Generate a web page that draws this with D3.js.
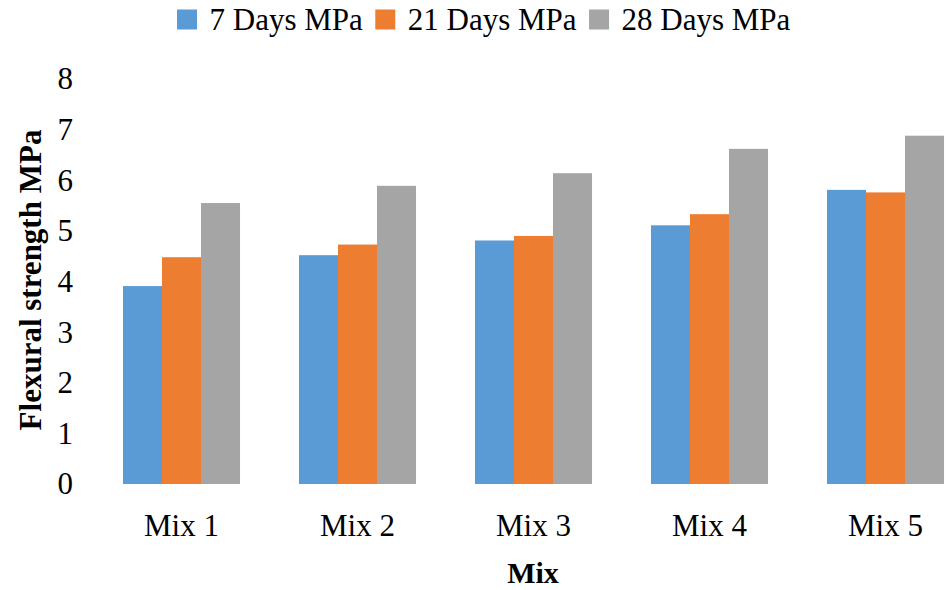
<!DOCTYPE html>
<html>
<head>
<meta charset="utf-8">
<script src="https://cdn.jsdelivr.net/npm/d3@7"></script>
<style>
  body { margin: 0; background: #fff; }
  svg text { font-family: "Liberation Serif", "Times New Roman", serif; fill: #000; }
</style>
</head>
<body>
<script>
// chart data
var mixes = ["Mix 1", "Mix 2", "Mix 3", "Mix 4", "Mix 5"];
var seriesNames = ["7 Days MPa", "21 Days MPa", "28 Days MPa"];
var days7 = [3.91, 4.52, 4.81, 5.11, 5.81];
var days21 = [4.48, 4.73, 4.90, 5.33, 5.76];
var days28 = [5.55, 5.89, 6.14, 6.62, 6.88];
var yTicks = [0, 1, 2, 3, 4, 5, 6, 7, 8];
var colors = ["#5B9BD5", "#ED7D31", "#A5A5A5"];

var seriesValues = [days7, days21, days28];
var serif = "'Liberation Serif', 'Times New Roman', serif";

var width = 946, height = 590;

var svg = d3.select("body").append("svg")
    .attr("width", width)
    .attr("height", height)
    .style("font-family", serif);

var x = d3.scaleBand()
    .domain(mixes)
    .range([93.5, 973.5])
    .paddingInner(0.335)
    .paddingOuter(0.1675);

var xSub = d3.scaleBand()
    .domain(seriesNames)
    .range([0, x.bandwidth()]);

var y = d3.scaleLinear()
    .domain([0, 8])
    .range([484, 79]);

// bars
var groups = svg.selectAll("g.mix")
    .data(mixes)
    .enter()
    .append("g")
    .attr("class", "mix")
    .attr("transform", function(d) { return "translate(" + x(d) + ",0)"; });

groups.selectAll("rect")
    .data(function(d, i) {
        return seriesNames.map(function(s, j) { return { series: s, value: seriesValues[j][i], color: colors[j] }; });
    })
    .enter()
    .append("rect")
    .attr("x", function(d) { return xSub(d.series); })
    .attr("width", xSub.bandwidth())
    .attr("y", function(d) { return y(d.value); })
    .attr("height", function(d) { return y(0) - y(d.value); })
    .style("fill", function(d) { return d.color; });

// y axis
var yAxis = svg.append("g")
    .attr("transform", "translate(73,0)")
    .call(d3.axisLeft(y).tickValues(yTicks).tickSize(0).tickPadding(0).tickFormat(d3.format("d")));
yAxis.attr("font-family", null);
yAxis.select(".domain").remove();
yAxis.selectAll("text")
    .style("font-size", "31px")
    .style("font-family", serif);

// x axis
var xAxis = svg.append("g")
    .attr("transform", "translate(0," + y(0) + ")")
    .call(d3.axisBottom(x).tickSize(0).tickPadding(30));
xAxis.attr("font-family", null);
xAxis.select(".domain").remove();
xAxis.selectAll("text")
    .style("font-size", "31px")
    .style("font-family", serif);

// axis titles
svg.append("text")
    .attr("x", 533)
    .attr("y", 583)
    .attr("text-anchor", "middle")
    .style("font-family", serif)
    .style("font-size", "30px")
    .style("font-weight", "bold")
    .text("Mix");

svg.append("text")
    .attr("transform", "translate(41,280) rotate(-90)")
    .attr("text-anchor", "middle")
    .style("font-family", serif)
    .style("font-size", "31px")
    .style("font-weight", "bold")
    .text("Flexural strength MPa");

// legend
var legend = svg.append("g");
var lx = 177;
seriesNames.forEach(function(name, i) {
    legend.append("rect")
        .attr("x", lx)
        .attr("y", 9.5)
        .attr("width", 20)
        .attr("height", 20)
        .style("fill", colors[i]);
    var t = legend.append("text")
        .attr("x", lx + 32.5)
        .attr("y", 30)
        .style("font-family", serif)
        .style("font-size", "31px")
        .text(name);
    lx = lx + 32.5 + t.node().getComputedTextLength() + 12.5;
});
</script>
</body>
</html>
